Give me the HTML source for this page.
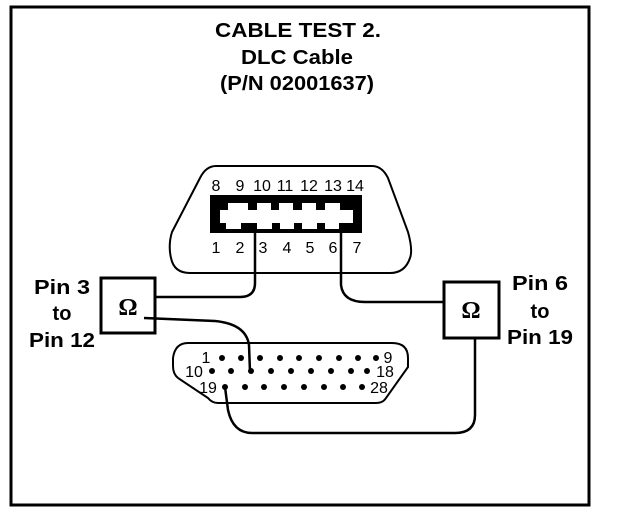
<!DOCTYPE html>
<html><head><meta charset="utf-8"><style>
html,body{margin:0;padding:0;background:#fff;}
svg{display:block;}
.t{font-family:"Liberation Sans",sans-serif;font-weight:bold;font-size:20px;fill:#000;text-anchor:middle;}
.n{font-family:"Liberation Sans",sans-serif;font-size:16px;fill:#000;text-anchor:middle;}
.o{font-family:"Liberation Serif",serif;font-weight:bold;font-size:24px;fill:#000;text-anchor:middle;}
</style></head><body>
<svg width="624" height="516" viewBox="0 0 624 516" xmlns="http://www.w3.org/2000/svg">
<rect x="11" y="7" width="578" height="498" fill="none" stroke="#000" stroke-width="3"/>
<text class="t" x="298" y="37" textLength="166" lengthAdjust="spacingAndGlyphs">CABLE TEST 2.</text>
<text class="t" x="297" y="64" textLength="112" lengthAdjust="spacingAndGlyphs">DLC Cable</text>
<text class="t" x="297" y="90" textLength="154" lengthAdjust="spacingAndGlyphs">(P/N 02001637)</text>

<path d="M216,166 L372,166 Q382,166 388,178 L408,232 Q413,250 410,258 Q405,273 390,273 L190,273 Q174,273 171,258 Q168,245 172,232 L200,178 Q206,166 216,166Z" fill="none" stroke="#000" stroke-width="2"/>
<rect x="210" y="195" width="152" height="38" fill="#000"/>
<rect x="220" y="210" width="133" height="13" fill="#fff"/>
<g fill="#fff">
<rect x="228" y="203" width="20" height="8"/><rect x="257" y="203" width="14" height="8"/><rect x="279" y="203" width="14" height="8"/><rect x="302" y="203" width="14" height="8"/><rect x="325" y="203" width="15" height="8"/>
<rect x="226" y="222" width="15" height="7"/><rect x="257" y="222" width="15" height="7"/><rect x="280" y="222" width="14" height="7"/><rect x="302" y="222" width="15" height="7"/><rect x="325" y="222" width="14" height="7"/>
</g>
<g class="n">
<text x="216" y="191">8</text><text x="240" y="191">9</text><text x="262" y="191">10</text><text x="285" y="191">11</text><text x="309" y="191">12</text><text x="333" y="191">13</text><text x="355" y="191">14</text>
<text x="216" y="253">1</text><text x="240" y="253">2</text><text x="263" y="253">3</text><text x="287" y="253">4</text><text x="310" y="253">5</text><text x="333" y="253">6</text><text x="357" y="253">7</text>
</g>

<path d="M188,343 L392,343 Q408,343 408,358 L408,367 L386,398 Q383,403 376,403 L218,403 Q212,403 208,398 L178,378 Q173,374 173,366 L173,358 Q175,343 188,343Z" fill="none" stroke="#000" stroke-width="2"/>
<g fill="#000">
<circle cx="222" cy="358" r="3"/><circle cx="241" cy="358" r="3"/><circle cx="260" cy="358" r="3"/><circle cx="280" cy="358" r="3"/><circle cx="299" cy="358" r="3"/><circle cx="319" cy="358" r="3"/><circle cx="339" cy="358" r="3"/><circle cx="358" cy="358" r="3"/><circle cx="376" cy="358" r="3"/>
<circle cx="212" cy="371" r="3"/><circle cx="231" cy="371" r="3"/><circle cx="251" cy="371" r="3"/><circle cx="271" cy="371" r="3"/><circle cx="291" cy="371" r="3"/><circle cx="311" cy="371" r="3"/><circle cx="331" cy="371" r="3"/><circle cx="351" cy="371" r="3"/><circle cx="367" cy="371" r="3"/>
<circle cx="225" cy="387" r="3"/><circle cx="245" cy="387" r="3"/><circle cx="264" cy="387" r="3"/><circle cx="284" cy="387" r="3"/><circle cx="304" cy="387" r="3"/><circle cx="324" cy="387" r="3"/><circle cx="343" cy="387" r="3"/><circle cx="362" cy="387" r="3"/>
</g>
<g class="n">
<text x="206" y="363">1</text><text x="388" y="363">9</text>
<text x="194" y="377">10</text><text x="385" y="377">18</text>
<text x="208" y="393">19</text><text x="379" y="393">28</text>
</g>

<rect x="101" y="278" width="54" height="55" fill="#fff" stroke="#000" stroke-width="3"/>
<rect x="444" y="282" width="55" height="56" fill="#fff" stroke="#000" stroke-width="3"/>
<text class="o" x="128" y="315">Ω</text>
<text class="o" x="471" y="318">Ω</text>

<g fill="none" stroke="#000" stroke-width="2.5">
<path d="M255,233 L255,283 Q255,297 240,297 L156,297"/>
<path d="M144,318 L215,321 Q246,324 249,345 L250,372"/>
<path d="M341,233 L341,285 Q343,302 365,302 L444,302"/>
<path d="M475,338 L475,415 Q475,433 455,433 L252,433 Q233,433 228,410 L225,387"/>
</g>

<text class="t" x="62" y="294" textLength="56" lengthAdjust="spacingAndGlyphs">Pin 3</text>
<text class="t" x="62" y="320">to</text>
<text class="t" x="62" y="347" textLength="66" lengthAdjust="spacingAndGlyphs">Pin 12</text>
<text class="t" x="540" y="290" textLength="56" lengthAdjust="spacingAndGlyphs">Pin 6</text>
<text class="t" x="540" y="318">to</text>
<text class="t" x="540" y="344" textLength="66" lengthAdjust="spacingAndGlyphs">Pin 19</text>
</svg>
</body></html>
